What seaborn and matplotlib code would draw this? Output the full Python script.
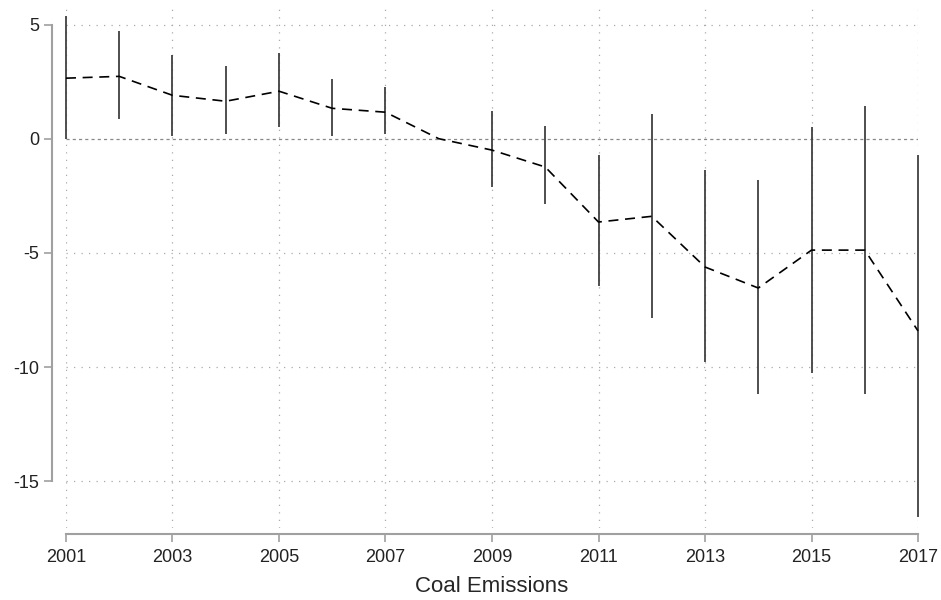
import matplotlib
matplotlib.use("Agg")
import matplotlib.pyplot as plt
import seaborn as sns
import numpy as np
import pandas as pd

# event-study style coefficients with confidence bounds
years = [2001, 2002, 2003, 2004, 2005, 2006, 2007, 2008, 2009,
         2010, 2011, 2012, 2013, 2014, 2015, 2016, 2017]
coef = [2.65, 2.73, 1.90, 1.64, 2.08, 1.33, 1.16, 0.0, -0.50,
        -1.24, -3.65, -3.40, -5.62, -6.54, -4.88, -4.88, -8.42]
ci_high = [5.36, 4.70, 3.65, 3.17, 3.74, 2.60, 2.25, 0.0, 1.20,
           0.55, -0.72, 1.07, -1.38, -1.82, 0.50, 1.42, -0.72]
ci_low = [0.0, 0.85, 0.10, 0.20, 0.50, 0.10, 0.20, 0.0, -2.10,
          -2.87, -6.45, -7.85, -9.78, -11.18, -10.26, -11.18, -16.56]

xticks = [2001, 2003, 2005, 2007, 2009, 2011, 2013, 2015, 2017]
yticks = [-15, -10, -5, 0, 5]

df = pd.DataFrame({"year": years, "coef": coef, "lo": ci_low, "hi": ci_high})

sns.set_style("white")
plt.rcParams['font.family'] = ['Liberation Sans', 'DejaVu Sans']

fig = plt.figure(figsize=(9.41, 6), dpi=100)
ax = fig.add_axes([0.0701, 0.12, 0.9055, 0.873])

# dotted grid like stata
for xt in xticks:
    ax.axvline(xt, color="#aaaaaa", lw=0.9, ls=(0, (1, 5)), zorder=0)
for yt in yticks:
    if yt == 0:
        continue
    ax.axhline(yt, color="#aaaaaa", lw=0.9, ls=(0, (1, 5)), zorder=0)
ax.axhline(0, color="#888888", lw=0.9, ls=(0, (2.5, 2.5)), zorder=0)

# confidence intervals
ax.vlines(df.year, df.lo, df.hi, color="#404040", lw=1.3, zorder=2,
          clip_on=False)

# point estimates
sns.lineplot(data=df, x="year", y="coef", ax=ax, color="black", lw=1.2,
             dashes=False, zorder=3)
ax.lines[-1].set_dashes((6, 4))
ax.lines[-1].set_clip_on(False)

ax.set_xlim(2001, 2017)
ax.set_ylim(-17.05, 5.89)
ax.set_xticks(xticks)
ax.set_yticks(yticks)
ax.set_xticklabels([str(x) for x in xticks])
ax.set_yticklabels([str(y) for y in yticks])
ax.set_xlabel("Coal Emissions", fontsize=16, labelpad=7)
ax.set_ylabel("")

for s in ["top", "right"]:
    ax.spines[s].set_visible(False)
ax.spines["left"].set_position(("outward", 10))
ax.spines["bottom"].set_position(("outward", 4))
ax.spines["left"].set_bounds(-15, 5)
ax.spines["bottom"].set_bounds(2001, 2017)
for s in ["left", "bottom"]:
    ax.spines[s].set_color("#a0a0a0")
    ax.spines[s].set_linewidth(1.5)
ax.tick_params(axis="both", direction="out", length=6, width=1.2,
               color="#a0a0a0", labelcolor="#222222", labelsize=13,
               left=True, bottom=True)
ax.tick_params(axis="y", pad=3)
ax.tick_params(axis="x", pad=5)

fig.savefig("out.png", dpi=100)
